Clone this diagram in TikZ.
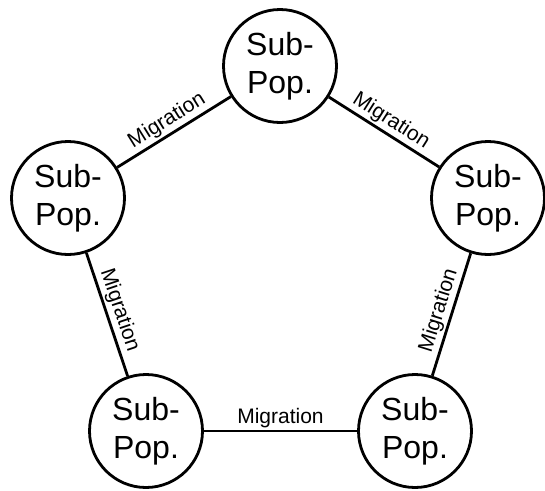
\documentclass[tikz,border=0pt]{standalone}
\usepackage{fontspec}
\setmainfont{Liberation Sans}
\begin{document}
\begin{tikzpicture}[x=1pt,y=-1pt,
  pop/.style={circle, draw, line width=2.8pt, minimum size=113pt, inner sep=0pt,
    align=center, font=\fontsize{32}{38}\selectfont},
  link/.style={line width=2.8pt},
  lbl/.style={midway, sloped, above, font=\fontsize{21}{24}\selectfont, inner sep=2pt}]
\useasboundingbox (0,0) rectangle (545,490);
\node[pop] (t)  at (280,66)  {Sub-\\Pop.};
\node[pop] (l)  at (68,198)  {Sub-\\Pop.};
\node[pop] (r)  at (488,198) {Sub-\\Pop.};
\node[pop] (bl) at (146,431) {Sub-\\Pop.};
\node[pop] (br) at (415,431) {Sub-\\Pop.};
\draw[link] (l) -- node[lbl] {Migration} (t);
\draw[link] (t) -- node[lbl] {Migration} (r);
\draw[link] (l) -- node[lbl] {Migration} (bl);
\draw[link] (br) -- node[lbl] {Migration} (r);
\draw[link] (bl) -- node[lbl] {Migration} (br);
\end{tikzpicture}
\end{document}
